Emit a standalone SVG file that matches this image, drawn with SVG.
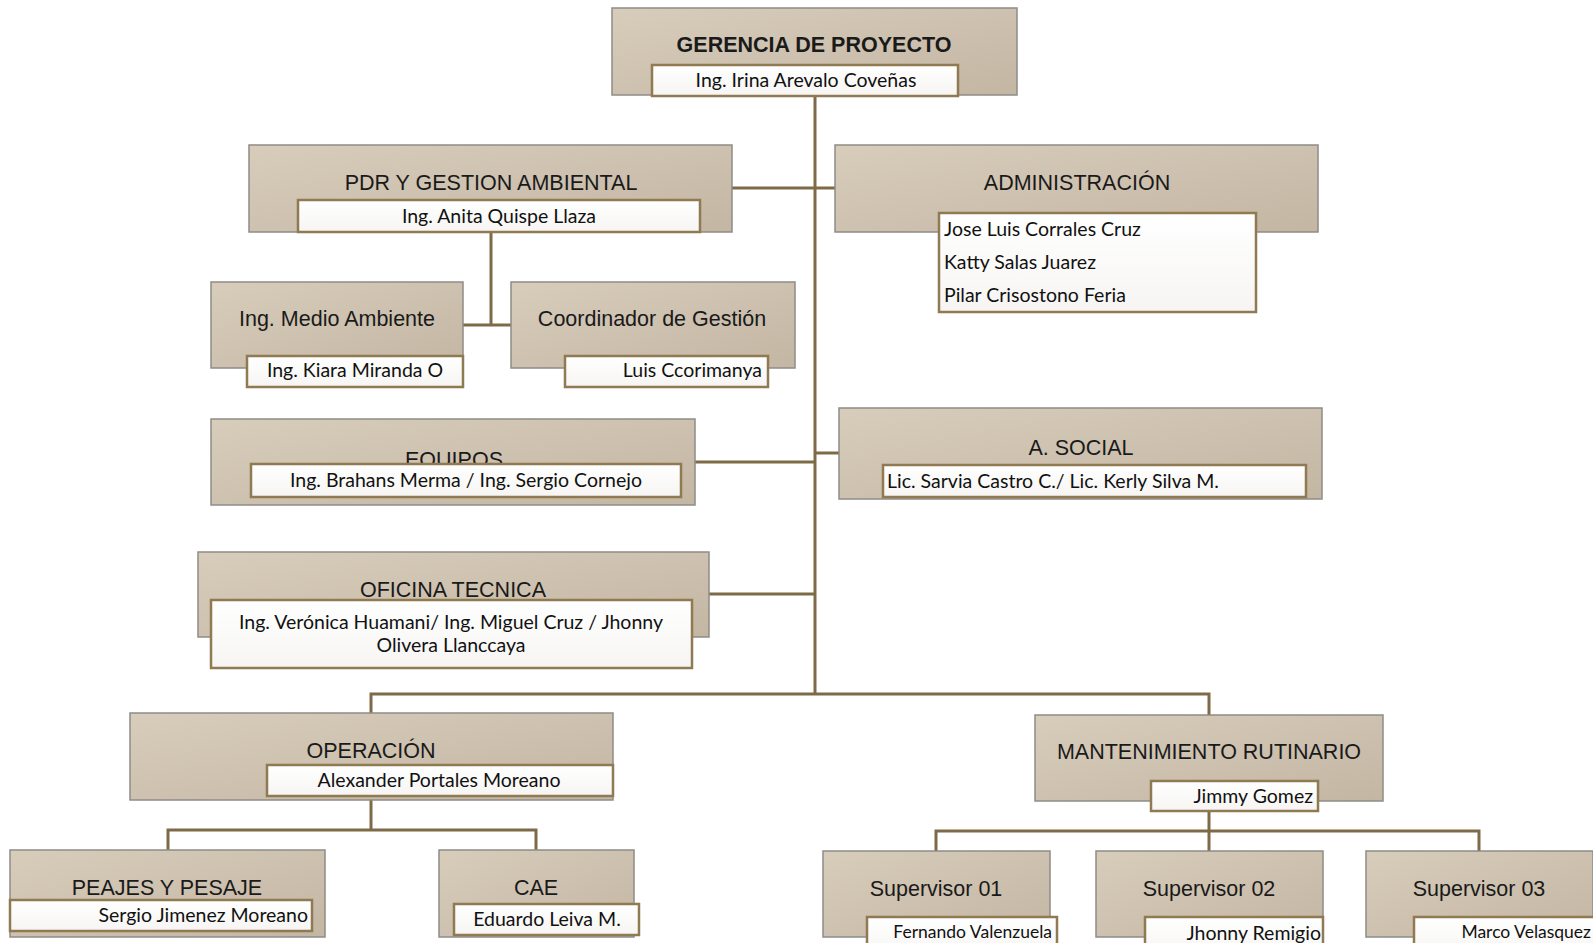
<svg xmlns="http://www.w3.org/2000/svg" width="1593" height="943" viewBox="0 0 1593 943">
<defs>
<linearGradient id="tan" x1="0" y1="0" x2="1" y2="1">
<stop offset="0" stop-color="#d8ccbb"/>
<stop offset="1" stop-color="#c3b6a3"/>
</linearGradient>
<linearGradient id="wht" x1="0" y1="0" x2="0" y2="1">
<stop offset="0" stop-color="#ffffff"/>
<stop offset="1" stop-color="#f6f5f3"/>
</linearGradient>
</defs>
<style>
.box{fill:url(#tan);stroke:#8e8c88;stroke-width:1.5}
.nm{fill:url(#wht);stroke:#8f7a52;stroke-width:2.5}
.t{font-family:"Liberation Sans",Arial,sans-serif;font-size:21.5px;fill:#1a1a1a;text-anchor:middle}
.tb{font-weight:bold}
.n{font-family:Lato,"Noto Sans",sans-serif;font-size:19.5px;fill:#111;text-anchor:middle}
.s{font-size:17.5px}
.l{text-anchor:start}
.r{text-anchor:end}
.c{fill:none;stroke:#7f6a48;stroke-width:3}
</style>
<rect width="1593" height="943" fill="#ffffff"/>
<g id="connectors">
<path class="c" d="M815 96V694"/>
<path class="c" d="M732 188H835"/>
<path class="c" d="M491 232V325M463 325H511"/>
<path class="c" d="M695 462H815"/>
<path class="c" d="M815 453H839"/>
<path class="c" d="M709 594H815"/>
<path class="c" d="M371 713V694H1209V715"/>
<path class="c" d="M371 800V830M168 850V830H536V850"/>
<path class="c" d="M1209 811V831M936 851V831H1479V851M1209 831V851"/>
</g>
<g id="gerencia">
<rect class="box" x="612" y="8" width="405" height="87"/>
<text class="t tb" x="814" y="52">GERENCIA DE PROYECTO</text>
<rect class="nm" x="652" y="65" width="306" height="31"/>
<text class="n" x="806" y="87">Ing. Irina Arevalo Coveñas</text>
</g>
<g id="pdr">
<rect class="box" x="249" y="145" width="483" height="87"/>
<text class="t" x="491" y="190">PDR Y GESTION AMBIENTAL</text>
<rect class="nm" x="298" y="200" width="402" height="32"/>
<text class="n" x="499" y="223">Ing. Anita Quispe Llaza</text>
</g>
<g id="administracion">
<rect class="box" x="835" y="145" width="483" height="87"/>
<text class="t" x="1077" y="190">ADMINISTRACIÓN</text>
<rect class="nm" x="939" y="213" width="317" height="99"/>
<text class="n l" x="944" y="236">Jose Luis Corrales Cruz</text>
<text class="n l" x="944" y="269">Katty Salas Juarez</text>
<text class="n l" x="944" y="302">Pilar Crisostono Feria</text>
</g>
<g id="medio-ambiente">
<rect class="box" x="211" y="282" width="252" height="86"/>
<text class="t" x="337" y="326">Ing. Medio Ambiente</text>
<rect class="nm" x="247" y="356" width="216" height="31"/>
<text class="n" x="355" y="377">Ing. Kiara Miranda O</text>
</g>
<g id="coordinador">
<rect class="box" x="511" y="282" width="284" height="86"/>
<text class="t" x="652" y="326">Coordinador de Gestión</text>
<rect class="nm" x="565" y="356" width="203" height="31"/>
<text class="n r" x="762" y="377">Luis Ccorimanya</text>
</g>
<g id="equipos">
<rect class="box" x="211" y="419" width="484" height="86"/>
<text class="t" x="454" y="467">EQUIPOS</text>
<rect class="nm" x="251" y="464" width="430" height="33"/>
<text class="n" x="466" y="487">Ing. Brahans Merma / Ing. Sergio Cornejo</text>
</g>
<g id="social">
<rect class="box" x="839" y="408" width="483" height="91"/>
<text class="t" x="1081" y="455">A. SOCIAL</text>
<rect class="nm" x="883" y="465" width="423" height="32"/>
<text class="n l" x="887" y="488">Lic. Sarvia Castro C./ Lic. Kerly Silva M.</text>
</g>
<g id="oficina-tecnica">
<rect class="box" x="198" y="552" width="511" height="85"/>
<text class="t" x="453" y="597">OFICINA TECNICA</text>
<rect class="nm" x="211" y="600" width="481" height="68"/>
<text class="n" x="451" y="629">Ing. Verónica Huamani/ Ing. Miguel Cruz / Jhonny</text>
<text class="n" x="451" y="652">Olivera Llanccaya</text>
</g>
<g id="operacion">
<rect class="box" x="130" y="713" width="483" height="87"/>
<text class="t" x="371" y="758">OPERACIÓN</text>
<rect class="nm" x="267" y="765" width="346" height="31"/>
<text class="n" x="439" y="787">Alexander Portales Moreano</text>
</g>
<g id="mantenimiento">
<rect class="box" x="1035" y="715" width="348" height="86"/>
<text class="t" x="1209" y="759">MANTENIMIENTO RUTINARIO</text>
<rect class="nm" x="1151" y="781" width="167" height="30"/>
<text class="n r" x="1313" y="803">Jimmy Gomez</text>
</g>
<g id="peajes">
<rect class="box" x="10" y="850" width="315" height="87"/>
<text class="t" x="167" y="895">PEAJES Y PESAJE</text>
<rect class="nm" x="10" y="900" width="302" height="31"/>
<text class="n r" x="308" y="922">Sergio Jimenez Moreano</text>
</g>
<g id="cae">
<rect class="box" x="439" y="850" width="195" height="87"/>
<text class="t" x="536" y="895">CAE</text>
<rect class="nm" x="454" y="904" width="185" height="31"/>
<text class="n" x="547" y="926">Eduardo Leiva M.</text>
</g>
<g id="supervisor-01">
<rect class="box" x="823" y="851" width="227" height="86"/>
<text class="t" x="936" y="896">Supervisor 01</text>
<rect class="nm" x="867" y="917" width="190" height="40"/>
<text class="n s r" x="1052" y="938">Fernando Valenzuela</text>
</g>
<g id="supervisor-02">
<rect class="box" x="1096" y="851" width="227" height="86"/>
<text class="t" x="1209" y="896">Supervisor 02</text>
<rect class="nm" x="1145" y="917" width="178" height="40"/>
<text class="n r" x="1321" y="940">Jhonny Remigio</text>
</g>
<g id="supervisor-03">
<rect class="box" x="1366" y="851" width="227" height="86"/>
<text class="t" x="1479" y="896">Supervisor 03</text>
<rect class="nm" x="1414" y="917" width="181" height="40"/>
<text class="n s r" x="1591" y="938">Marco Velasquez</text>
</g>
</svg>
